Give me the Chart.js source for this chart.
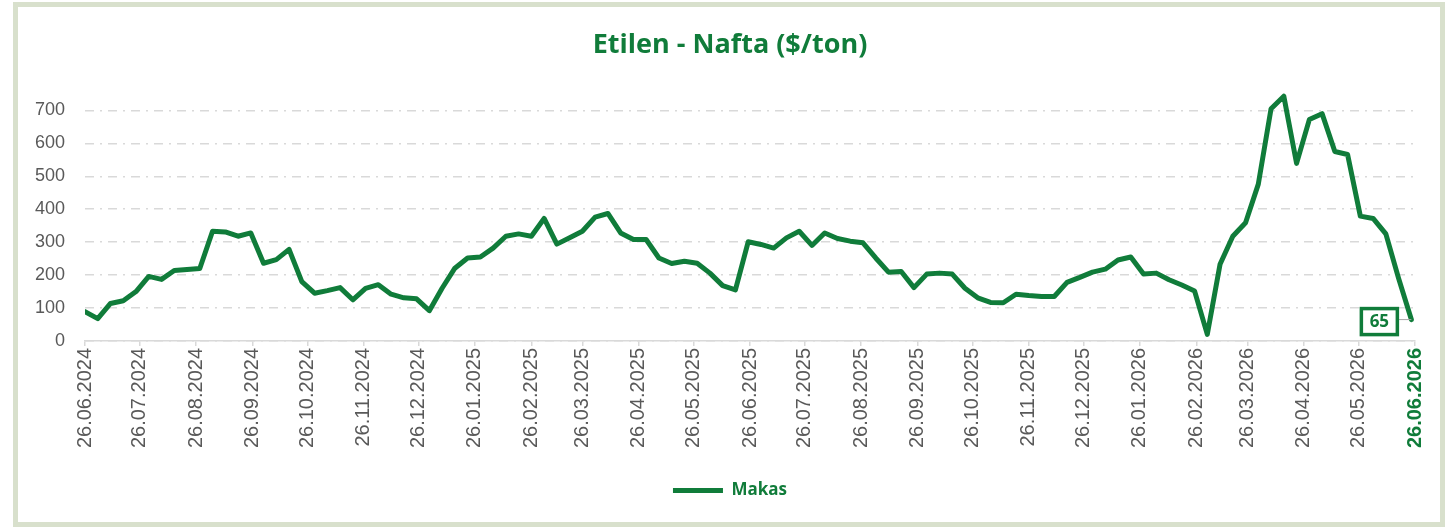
<!DOCTYPE html>
<html>
<head>
<meta charset="utf-8">
<script src="https://cdn.jsdelivr.net/npm/chart.js@4.4.1/dist/chart.umd.min.js"></script>
<style>
    html, body { margin: 0; padding: 0; background: #fff; }
    #wrap { position: relative; width: 1445px; height: 527px; }
    #frame {
        position: absolute; left: 13px; top: 2px; right: 0; bottom: 0;
        border: 5px solid #d8e0cc; box-sizing: border-box; pointer-events: none;
    }
</style>
</head>
<body>
<div id="wrap">
    <canvas id="makasChart"></canvas>
    <div id="frame"></div>
</div>
<script>
// weekly spread values, first week = 26.06.2024
const startDate = '26.06.2024';
const stepDays = 7;
const makas = [
    89, 68, 114, 122, 150, 196, 187, 214, 217, 220,
    333, 331, 318, 328, 236, 247, 278, 180, 145, 153,
    162, 125, 160, 171, 142, 131, 128, 92, 160, 221,
    252, 255, 282, 318, 325, 318, 372, 294, 313, 333,
    376, 387, 328, 308, 308, 252, 235, 242, 236, 206,
    168, 155, 301, 293, 282, 313, 333, 290, 328, 311,
    303, 298, 252, 209, 211, 162, 203, 206, 203, 160,
    131, 117, 116, 142, 138, 135, 135, 178, 193, 209,
    218, 246, 255, 203, 206, 186, 170, 152, 20, 233,
    318, 359, 476, 705, 743, 539, 672, 690, 575, 566,
    379, 372, 325, 190, 65
];
// x axis tick labels (monthly)
const monthLabels = [
    '26.06.2024', '26.07.2024', '26.08.2024', '26.09.2024', '26.10.2024', '26.11.2024',
    '26.12.2024', '26.01.2025', '26.02.2025', '26.03.2025', '26.04.2025', '26.05.2025',
    '26.06.2025', '26.07.2025', '26.08.2025', '26.09.2025', '26.10.2025', '26.11.2025',
    '26.12.2025', '26.01.2026', '26.02.2026', '26.03.2026', '26.04.2026', '26.05.2026',
    '26.06.2026'
];
const yTicks = [0, 100, 200, 300, 400, 500, 600, 700];

const GREEN = '#107c3a';
const GREY = '#595959';
const GRID = '#d9d9d9';
const SANS = '"Open Sans", Lato, sans-serif';

// "dd.mm.yyyy" -> gün sayı (startDate-тен)
const toDay = (s) => {
    const [d, m, y] = s.split('.').map(Number);
    const [d0, m0, y0] = startDate.split('.').map(Number);
    return (Date.UTC(y, m - 1, d) - Date.UTC(y0, m0 - 1, d0)) / 86400000;
};
const monthDays = monthLabels.map(toDay);
const points = makas.map((v, i) => ({ x: i * stepDays, y: v }));

// last value box with leader line
const lastLabel = {
    id: 'lastLabel',
    afterDatasetsDraw(chart) {
        const meta = chart.getDatasetMeta(0);
        const pt = meta.data[meta.data.length - 1];
        if (!pt) return;
        const c = chart.ctx;
        const val = makas[makas.length - 1];
        const bw = 36, bh = 26;
        const bx = pt.x - 32 - bw / 2, by = pt.y + 2 - bh / 2;
        c.save();
        c.strokeStyle = '#a6a6a6';
        c.lineWidth = 1;
        c.beginPath();
        c.moveTo(bx + bw, pt.y);
        c.lineTo(pt.x, pt.y);
        c.stroke();
        c.fillStyle = '#fff';
        c.fillRect(bx, by, bw, bh);
        c.strokeStyle = GREEN;
        c.lineWidth = 3.5;
        c.strokeRect(bx, by, bw, bh);
        c.fillStyle = GREEN;
        c.font = 'bold 17px ' + SANS;
        c.textAlign = 'center';
        c.textBaseline = 'middle';
        c.fillText(String(val), bx + bw / 2, by + bh / 2 + 1);
        c.restore();
    }
};

window.charts = window.charts || {};

window.renderSpreadChart = (ctxId) => {
    const ctx = document.getElementById(ctxId);
    if (!ctx) return console.error("Canvas not found:", ctxId);

    window.charts[ctxId] = new Chart(ctx, {
        type: 'line',
        data: {
            datasets: [{
                label: 'Makas',
                data: points,
                borderColor: GREEN,
                backgroundColor: GREEN,
                borderWidth: 5,
                borderJoinStyle: 'round',
                borderCapStyle: 'round',
                pointRadius: 0,
                tension: 0,
                fill: false
            }]
        },
        options: {
            responsive: true,
            maintainAspectRatio: false,
            animation: false,
            layout: { padding: { left: 25, right: 10, top: 0, bottom: 18 } },
            plugins: {
                title: {
                    display: true,
                    text: 'Etilen - Nafta ($/ton)',
                    color: GREEN,
                    font: { family: SANS, size: 27, weight: 'bold' },
                    padding: { top: 29, bottom: 16 }
                },
                legend: {
                    position: 'bottom',
                    labels: {
                        boxWidth: 50,
                        boxHeight: 5,
                        useBorderRadius: true,
                        borderRadius: 2,
                        color: GREEN,
                        font: { family: SANS, size: 17, weight: 'bold' },
                        padding: 14,
                        generateLabels: (chart) => [{
                            text: 'Makas',
                            fillStyle: GREEN,
                            strokeStyle: GREEN,
                            lineWidth: 0,
                            fontColor: GREEN,
                            datasetIndex: 0
                        }]
                    }
                },
                tooltip: { enabled: false }
            },
            scales: {
                x: {
                    type: 'linear',
                    min: 0,
                    max: monthDays[monthDays.length - 1],
                    afterBuildTicks: (scale) => {
                        scale.ticks = monthDays.map(v => ({ value: v }));
                    },
                    afterFit: (scale) => { scale.height = 127; },
                    grid: { drawOnChartArea: false, drawTicks: true, tickLength: 5, color: GRID, lineWidth: 1.5 },
                    border: { display: true, color: GRID, width: 1.5 },
                    ticks: {
                        autoSkip: false,
                        minRotation: 90,
                        maxRotation: 90,
                        padding: 2,
                        color: (c) => c.index === monthLabels.length - 1 ? GREEN : GREY,
                        font: (c) => ({
                            family: '"Liberation Sans", Arial, sans-serif',
                            size: 20,
                            weight: c.index === monthLabels.length - 1 ? 'bold' : 'normal'
                        }),
                        callback: (value, index) => monthLabels[index]
                    }
                },
                y: {
                    min: 0,
                    max: 800,
                    afterBuildTicks: (scale) => {
                        scale.ticks = yTicks.map(v => ({ value: v }));
                    },
                    afterFit: (scale) => { scale.width = 60; },
                    grid: { color: GRID, lineWidth: 1.5, drawTicks: false },
                    border: { display: false, dash: [9, 6, 2, 6] },
                    ticks: {
                        padding: 20,
                        color: GREY,
                        font: { family: '"Liberation Sans", Arial, sans-serif', size: 18 }
                    }
                },
                // boş oң жақ бос орын (title/legend ортасы үшін)
                yRight: {
                    position: 'right',
                    min: 0,
                    max: 800,
                    afterFit: (scale) => { scale.width = 20; },
                    grid: { display: false },
                    border: { display: false },
                    ticks: { display: false }
                }
            }
        },
        plugins: [lastLabel]
    });
};

window.renderSpreadChart('makasChart');
</script>
</body>
</html>
